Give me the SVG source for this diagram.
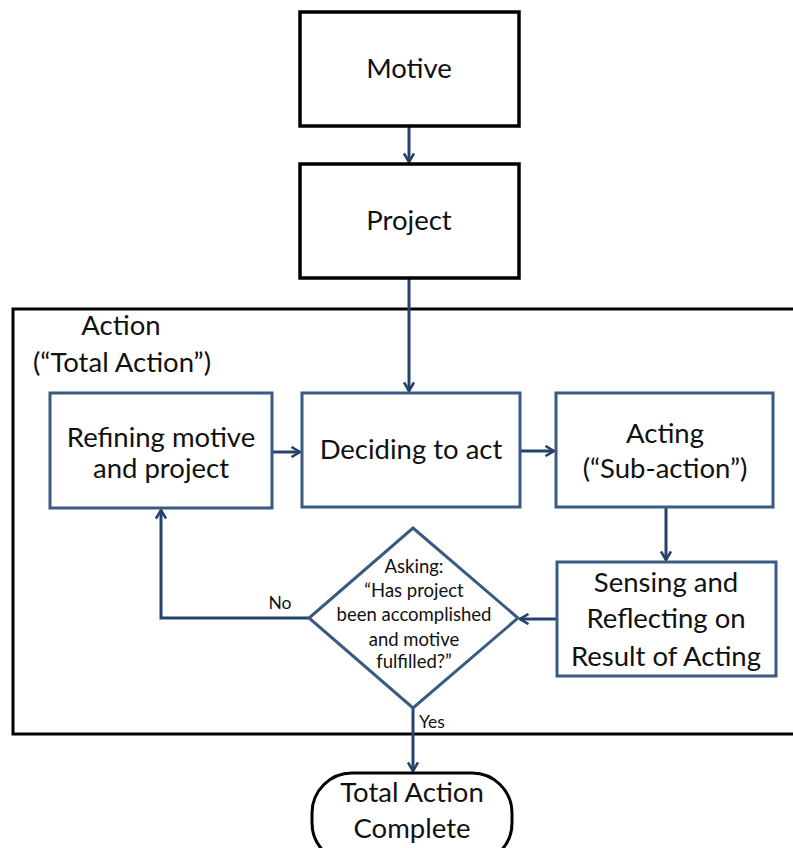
<svg xmlns="http://www.w3.org/2000/svg" width="793" height="848" viewBox="0 0 793 848">
  <style>
    .t { font-family: Lato, "Open Sans", "Liberation Sans", sans-serif; fill: #111; text-anchor: middle; }
    .big { font-size: 27.5px; }
    .mid { font-size: 18.5px; }
    .sm { font-size: 17.5px; }
    .blk { fill: #fff; stroke: #000; stroke-width: 3.5; }
    .blu { fill: #fff; stroke: #3b5a82; stroke-width: 3; }
    .edge { fill: none; stroke: #24426a; stroke-width: 3; }
  </style>
  <defs>
    <marker id="arr" viewBox="0 0 12 12" refX="10.5" refY="6" markerWidth="12" markerHeight="12" markerUnits="userSpaceOnUse" orient="auto">
      <path d="M2,1 L10.5,6 L2,11" fill="none" stroke="#24426a" stroke-width="2.6"/>
    </marker>
  </defs>
  <rect width="793" height="848" fill="#fff"/>

  <!-- container for the total action -->
  <g id="action-frame">
    <path d="M795,309 H13 V734 H795" fill="none" stroke="#000" stroke-width="3"/>
    <text class="t big" x="121" y="335">Action</text>
    <text class="t big" x="122" y="372">(“Total Action”)</text>
  </g>

  <g id="connectors">
    <line class="edge" x1="409" y1="126" x2="409" y2="162" marker-end="url(#arr)"/>
    <line class="edge" x1="409" y1="278" x2="409" y2="391" marker-end="url(#arr)"/>
    <line class="edge" x1="272" y1="452" x2="300" y2="452" marker-end="url(#arr)"/>
    <line class="edge" x1="520" y1="451" x2="554" y2="451" marker-end="url(#arr)"/>
    <line class="edge" x1="666" y1="507" x2="666" y2="560" marker-end="url(#arr)"/>
    <line class="edge" x1="557" y1="619" x2="520" y2="619" marker-end="url(#arr)"/>
    <polyline class="edge" points="309,618 161,618 161,510" marker-end="url(#arr)"/>
    <line class="edge" x1="413" y1="708" x2="413" y2="771" marker-end="url(#arr)"/>
    <text class="t sm" x="280" y="609">No</text>
    <text class="t sm" x="432" y="728">Yes</text>
  </g>

  <g id="motive">
    <rect class="blk" x="300" y="12" width="219" height="114"/>
    <text class="t big" x="409" y="78">Motive</text>
  </g>

  <g id="project">
    <rect class="blk" x="300" y="164" width="219" height="114"/>
    <text class="t big" x="409" y="230">Project</text>
  </g>

  <g id="refining">
    <rect class="blu" x="50" y="393" width="222" height="115"/>
    <text class="t big" x="161" y="447">Refining motive</text>
    <text class="t big" x="161" y="478">and project</text>
  </g>

  <g id="deciding">
    <rect class="blu" x="302" y="393" width="218" height="114"/>
    <text class="t big" x="411" y="459">Deciding to act</text>
  </g>

  <g id="acting">
    <rect class="blu" x="556" y="393" width="217" height="114"/>
    <text class="t big" x="665" y="443">Acting</text>
    <text class="t big" x="665" y="478">(“Sub-action”)</text>
  </g>

  <g id="sensing">
    <rect class="blu" x="557" y="562" width="219" height="114"/>
    <text class="t big" x="666" y="592">Sensing and</text>
    <text class="t big" x="666" y="628">Reflecting on</text>
    <text class="t big" x="666" y="666">Result of Acting</text>
  </g>

  <g id="asking">
    <polygon class="blu" points="413,528 518,618 413,708 309,618"/>
    <text class="t mid" x="414" y="573">Asking:</text>
    <text class="t mid" x="414" y="597">“Has project</text>
    <text class="t mid" x="414" y="621">been accomplished</text>
    <text class="t mid" x="414" y="646">and motive</text>
    <text class="t mid" x="414" y="668">fulfilled?”</text>
  </g>

  <g id="complete">
    <rect x="312" y="773" width="200" height="90" rx="40" ry="40" fill="#fff" stroke="#000" stroke-width="3"/>
    <text class="t big" x="412" y="802">Total Action</text>
    <text class="t big" x="412" y="838">Complete</text>
  </g>
</svg>
